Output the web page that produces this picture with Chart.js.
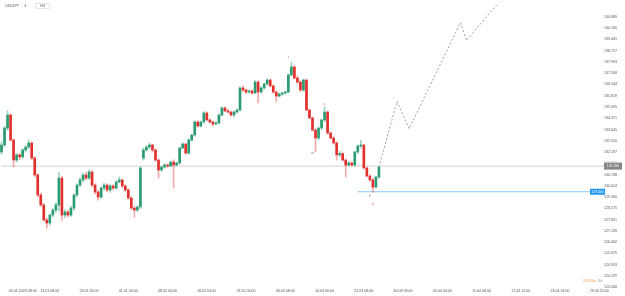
<!DOCTYPE html>
<html>
<head>
<meta charset="utf-8">
<script src="https://cdn.jsdelivr.net/npm/chart.js@4.4.0/dist/chart.umd.min.js"></script>
<style>
  html, body { margin: 0; padding: 0; background: #fff; }
  #wrap { position: relative; width: 625px; height: 296px; }
  .sym { position: absolute; left: 5px; top: 3px; font: 3.6px 'Liberation Sans', Arial, sans-serif; color: #555; white-space: nowrap; }
  .sym .tf { display: inline-block; margin-left: 8px; padding: 0 4px; border: 1px solid #e4e4e4; border-radius: 1px; }
  .timer { position: absolute; left: 583px; top: 279px; font: 3.4px 'Liberation Sans', Arial, sans-serif; color: #999; white-space: nowrap; }
  .timer span { color: #f0a04b; }
</style>
</head>
<body>
<div id="wrap">
  <canvas id="chart" width="625" height="296"></canvas>
  <div class="sym">USDJPY &nbsp;· &nbsp;4 <span class="tf">H4</span></div>
  <div class="timer"><span>22h 36m</span> 10s</div>
</div>
<script>
// 4h candles, one slot per candle, then empty slots for the projection
const slotCount = 207;

const opens = [132.20,132.65,133.74,134.58,132.97,131.68,132.01,131.88,132.33,132.52,
  132.78,131.81,130.72,129.43,128.79,127.82,127.63,128.14,128.46,128.79,
  130.52,128.14,128.34,128.14,128.59,129.43,130.07,130.40,130.72,130.52,
  130.91,130.07,129.62,129.30,129.88,130.07,129.75,130.01,129.88,130.27,
  130.40,130.01,129.75,129.24,128.59,128.46,128.66,131.81,132.33,132.52,
  132.65,132.33,131.68,131.04,131.23,131.36,131.30,131.55,131.36,131.49,
  132.46,132.71,132.13,132.97,133.29,134.13,133.87,134.13,134.71,134.26,
  134.13,134.00,134.07,134.58,135.03,134.84,134.77,134.58,134.77,134.90,
  136.32,136.19,136.06,136.13,136.00,136.70,136.06,136.32,136.58,136.83,
  136.45,136.06,135.80,135.93,136.00,136.06,137.16,137.67,136.96,136.70,
  136.19,136.83,134.90,134.39,133.61,133.10,133.74,134.26,134.77,133.42,
  133.10,132.78,132.01,132.10,131.68,131.36,131.49,131.36,132.20,132.58,
  132.65,131.17,130.65,130.40,129.94,130.59];
const highs = [132.85,133.85,134.85,134.65,133.05,132.10,132.10,132.40,132.60,132.98,
  132.85,131.90,130.80,129.55,128.90,127.95,128.20,128.55,128.95,130.90,
  130.65,128.50,128.45,128.70,129.50,130.15,130.55,130.85,130.90,131.05,
  131.00,130.15,129.75,129.95,130.20,130.15,130.10,130.10,130.35,130.60,
  130.45,130.10,129.85,129.30,128.70,128.75,131.25,132.45,132.60,132.78,
  132.70,132.40,131.75,131.30,131.45,131.42,131.62,131.70,131.55,132.50,
  132.80,132.75,133.05,133.35,134.20,134.20,134.20,134.80,134.78,134.35,
  134.20,134.15,134.65,135.10,135.12,134.95,134.85,134.85,134.98,136.40,
  136.45,136.25,136.20,136.18,136.80,136.78,136.40,136.65,136.92,136.90,
  136.52,136.12,136.00,136.05,136.12,137.22,137.99,137.75,137.10,136.78,
  136.90,136.90,134.98,134.45,133.70,133.80,134.30,135.10,134.85,133.50,
  133.18,132.85,132.25,132.15,131.75,131.60,131.55,132.25,132.65,132.97,
  132.70,131.25,130.75,130.50,130.65,131.30];
const lows = [132.05,132.55,133.60,132.90,131.23,131.55,131.70,131.80,132.20,132.40,
  131.70,130.60,129.30,128.70,127.75,127.30,127.50,128.00,128.30,128.40,
  127.80,127.95,128.00,128.05,128.45,129.30,129.95,130.25,130.40,130.45,
  129.95,129.50,129.10,129.20,129.75,129.65,129.60,129.75,129.80,130.20,
  129.90,129.65,129.15,128.50,128.00,128.35,128.55,131.68,132.25,132.40,
  132.20,131.60,130.52,130.95,131.15,131.20,131.25,129.88,131.30,131.40,
  132.40,132.05,132.05,132.90,133.20,133.80,133.80,134.05,134.20,134.05,
  133.90,133.95,134.00,134.50,134.80,134.70,134.50,134.45,134.70,134.85,
  136.10,135.95,135.98,135.90,135.95,135.35,135.98,136.25,136.50,136.38,
  135.98,135.42,135.75,135.85,135.92,136.00,137.10,136.90,136.60,136.10,
  136.10,134.85,134.33,133.55,132.20,133.00,133.65,134.15,133.35,133.02,
  132.70,131.68,131.90,131.60,130.59,131.30,131.30,131.30,132.10,132.45,
  131.10,130.60,130.30,129.62,129.88,130.50];
const closes = [132.65,133.74,134.58,132.97,131.68,132.01,131.88,132.33,132.52,132.78,
  131.81,130.72,129.43,128.79,127.82,127.63,128.14,128.46,128.79,130.52,
  128.14,128.34,128.14,128.59,129.43,130.07,130.40,130.72,130.52,130.91,
  130.07,129.62,129.30,129.88,130.07,129.75,130.01,129.88,130.27,130.40,
  130.01,129.75,129.24,128.59,128.46,128.66,131.17,132.33,132.52,132.65,
  132.33,131.68,131.04,131.23,131.36,131.30,131.55,131.36,131.49,132.46,
  132.71,132.13,132.97,133.29,134.13,133.87,134.13,134.71,134.26,134.13,
  134.00,134.07,134.58,135.03,134.84,134.77,134.58,134.77,134.90,136.32,
  136.19,136.06,136.13,136.00,136.70,136.06,136.32,136.58,136.83,136.45,
  136.06,135.80,135.93,136.00,136.06,137.16,137.67,136.96,136.70,136.19,
  136.83,134.90,134.39,133.61,133.10,133.74,134.26,134.77,133.42,133.10,
  132.78,132.01,132.10,131.68,131.36,131.49,131.36,132.20,132.58,132.65,
  131.17,130.65,130.40,129.94,130.59,131.23];

// dashed projection (wave path)
const projSlots = [125, 131, 135, 152, 154, 164];
const projPrices = [131.23, 135.46, 133.69, 140.52, 139.37, 141.66];

// horizontal levels
const grayLevel = 131.290;
const graySlots = [0, 200];
const blueLevel = 129.640;
const blueSlots = [118, 195];

// wave labels
const waveTexts = ['i', 'w', 'x', 'y', 'ii'];
const waveSlots = [95, 103, 107, 122, 123];
const wavePrices = [138.31, 132.13, 135.29, 129.43, 128.85];

// axis ticks
const xTickSlots = [7, 16, 29, 42, 55, 68, 81, 94, 107, 120, 133, 146, 159, 172, 185, 198];
const xTickLabels = ['05.01.2023 08:00', '13.01 08:00', '23.01 04:00', '31.01 04:00', '08.02 04:00',
  '16.02 04:00', '24.02 04:00', '06.03 08:00', '14.03 00:00', '22.03 08:00', '30.03 08:00',
  '05.04 04:00', '11.04 08:00', '17.04 12:00', '23.04 16:00', '29.04 20:00'];
const yTicks = [140.889, 140.166, 139.441, 138.717, 137.993, 137.268, 136.544, 135.819, 135.095,
  134.371, 133.645, 132.920, 132.197, 131.472, 130.748, 130.024, 129.300, 128.575, 127.851,
  127.126, 126.402, 125.679, 124.953, 124.229, 123.508];

const UP = '#2b9c72', DOWN = '#e2302e';
const UP_WICK = 'rgba(43,156,114,0.45)', DOWN_WICK = 'rgba(226,48,46,0.4)';
const TICK_FONT = { size: 3.6, family: '"Liberation Sans", Arial, sans-serif' };

// build slot labels + sparse arrays
const labels = new Array(slotCount).fill('');
xTickSlots.forEach((s, k) => { labels[s] = xTickLabels[k]; });

function sparse(slots, values) {
    const arr = new Array(slotCount).fill(null);
    slots.forEach((s, k) => { arr[s] = values[k]; });
    return arr;
}

const bodies = opens.map((o, i) => [o, closes[i]]);
const wicks = lows.map((l, i) => [l, highs[i]]);
const isUp = opens.map((o, i) => closes[i] >= o);

// small text annotations + price tags
const overlay = {
    id: 'overlay',
    afterDatasetsDraw(chart) {
        const ctx = chart.ctx, xs = chart.scales.x, ys = chart.scales.y;
        ctx.save();
        ctx.font = '4px "Liberation Sans", Arial, sans-serif';
        ctx.textAlign = 'center';
        ctx.textBaseline = 'middle';
        waveTexts.forEach((t, k) => {
            ctx.fillStyle = (t === 'ii') ? '#e05555' : (t === 'i' ? '#c07070' : '#8a8a8a');
            ctx.fillText(t, xs.getPixelForValue(waveSlots[k]), ys.getPixelForValue(wavePrices[k]));
        });
        ctx.restore();
    },
    afterDraw(chart) {
        const ctx = chart.ctx, ys = chart.scales.y;
        const tag = (x, w, price, bg) => {
            const y = ys.getPixelForValue(price);
            ctx.fillStyle = '#fff';
            ctx.fillRect(x, y - 4.5, 625 - x, 8);
            ctx.fillStyle = bg;
            ctx.fillRect(x, y - 3.5, w, 7);
            ctx.fillStyle = '#fff';
            ctx.font = '3.4px "Liberation Sans", Arial, sans-serif';
            ctx.textAlign = 'center';
            ctx.textBaseline = 'middle';
            ctx.fillText(price.toFixed(3), x + w / 2, y);
        };
        ctx.save();
        tag(604, 18, grayLevel, '#858585');
        ctx.restore();
        ctx.save();
        const yb = ys.getPixelForValue(blueLevel);
        ctx.fillStyle = '#2196f3';
        ctx.fillRect(590, yb - 3, 15, 6);
        ctx.fillStyle = '#fff';
        ctx.font = '3.4px "Liberation Sans", Arial, sans-serif';
        ctx.textAlign = 'center';
        ctx.textBaseline = 'middle';
        ctx.fillText(blueLevel.toFixed(3), 597.5, yb);
        ctx.restore();
    }
};

new Chart(document.getElementById('chart'), {
    type: 'bar',
    data: {
        labels: labels,
        datasets: [
            {
                type: 'line',
                data: sparse(projSlots, projPrices),
                borderColor: '#a0a0a0',
                borderWidth: 1,
                borderDash: [2, 2],
                pointRadius: 0,
                spanGaps: true,
                tension: 0
            },
            {
                data: bodies,
                backgroundColor: isUp.map(u => u ? UP : DOWN),
                barThickness: 2,
                minBarLength: 1,
                grouped: false,
                borderWidth: 0
            },
            {
                data: wicks,
                backgroundColor: isUp.map(u => u ? UP_WICK : DOWN_WICK),
                barThickness: 1,
                grouped: false,
                borderWidth: 0
            },
            {
                type: 'line',
                data: sparse(graySlots, [grayLevel, grayLevel]),
                borderColor: '#d2d2d2',
                borderWidth: 1,
                pointRadius: 0,
                spanGaps: true
            },
            {
                type: 'line',
                data: sparse(blueSlots, [blueLevel, blueLevel]),
                borderColor: '#86c8f7',
                borderWidth: 1,
                pointRadius: 0,
                spanGaps: true
            }
        ]
    },
    options: {
        responsive: false,
        animation: false,
        events: [],
        layout: { padding: 0 },
        plugins: { legend: { display: false }, tooltip: { enabled: false } },
        scales: {
            x: {
                type: 'category',
                offset: true,
                grid: { display: false },
                border: { display: false },
                ticks: {
                    autoSkip: false,
                    maxRotation: 0,
                    mirror: true,
                    padding: 3,
                    color: '#555',
                    font: TICK_FONT
                },
                afterBuildTicks: s => { s.ticks = xTickSlots.map(v => ({ value: v })); },
                afterFit: s => { s.height = 0; }
            },
            y: {
                type: 'linear',
                position: 'right',
                min: 122.929,
                max: 141.983,
                grid: { display: false },
                border: { display: false },
                ticks: {
                    autoSkip: false,
                    mirror: true,
                    padding: -8,
                    color: '#555',
                    font: TICK_FONT,
                    callback: v => v.toFixed(3)
                },
                afterBuildTicks: s => { s.ticks = yTicks.map(v => ({ value: v })); },
                afterFit: s => { s.width = 0; }
            }
        }
    },
    plugins: [overlay]
});
</script>
</body>
</html>
